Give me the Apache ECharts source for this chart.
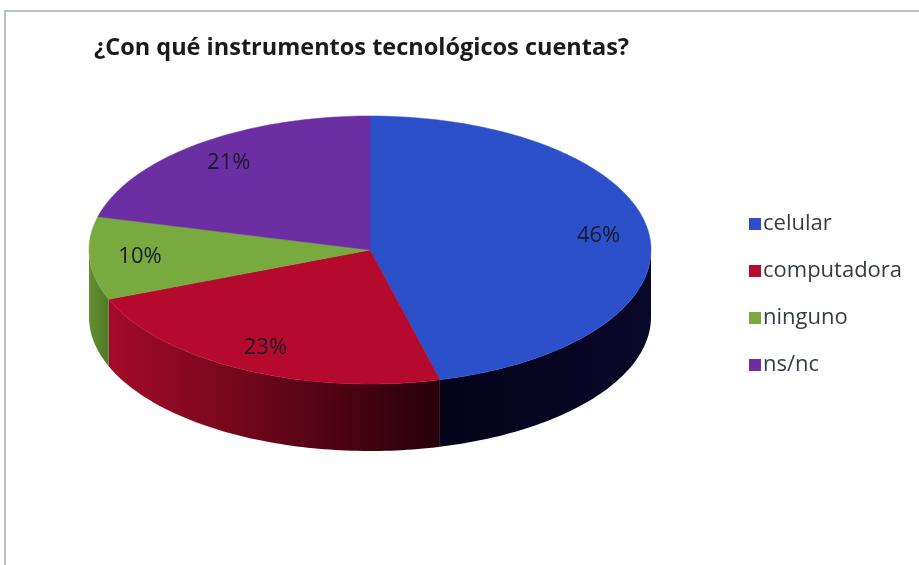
<!DOCTYPE html>
<html>
<head>
<meta charset="utf-8">
<script src="https://cdn.jsdelivr.net/npm/echarts@6/dist/echarts.min.js"></script>
<style>
  html, body { margin: 0; padding: 0; background: #fff; }
  #chart { width: 919px; height: 565px; }
</style>
</head>
<body>
<div id="chart"></div>
<script>
  // data
  var categories = ['celular', 'computadora', 'ninguno', 'ns/nc'];
  var percents = [46, 23, 10, 21];
  var labels = ['46%', '23%', '10%', '21%'];

  var topColors = ['#2b50c9', '#b5092d', '#78aa40', '#6b2fa3'];
  var wallColors = [
    ['#05031a', '#0a0828'],   // left -> right
    ['#a50b28', '#26000b'],
    ['#62902f', '#4f7a26'],
    ['#4f1f7c', '#3c165f']
  ];

  // pie geometry (ellipse, tilted)
  var cx = 370, cy = 250, rx = 281, ry = 134, depth = 67;

  var total = percents.reduce(function (a, b) { return a + b; }, 0);

  function pt(t, dy) {
    return [cx + rx * Math.sin(t), cy - ry * Math.cos(t) + (dy || 0)];
  }
  function arc(a0, a1, dy) {
    var pts = [];
    var n = Math.max(2, Math.ceil(Math.abs(a1 - a0) / 0.02));
    for (var k = 0; k <= n; k++) {
      pts.push(pt(a0 + (a1 - a0) * k / n, dy));
    }
    return pts;
  }

  function renderSlice(params, api) {
    var i = params.seriesIndex;
    var before = 0;
    for (var j = 0; j < i; j++) before += percents[j];
    var v = api.value(0);
    var a0 = before / total * Math.PI * 2;
    var a1 = (before + v) / total * Math.PI * 2;
    var children = [];

    // outer wall (front half only)
    var s = Math.max(a0, Math.PI / 2), e = Math.min(a1, Math.PI * 1.5);
    if (e > s) {
      var topArc = arc(s, e, 0);
      var botArc = arc(e, s, depth);
      var xs = topArc.map(function (p) { return p[0]; });
      var minX = Math.min.apply(null, xs), maxX = Math.max.apply(null, xs);
      children.push({
        type: 'polygon',
        z2: 1,
        shape: { points: topArc.concat(botArc) },
        style: {
          fill: new echarts.graphic.LinearGradient(minX, 0, maxX, 0, [
            { offset: 0, color: wallColors[i][0] },
            { offset: 1, color: wallColors[i][1] }
          ], true),
          stroke: null
        }
      });
    }

    // top face
    children.push({
      type: 'polygon',
      z2: 10,
      shape: { points: [[cx, cy]].concat(arc(a0, a1, 0)) },
      style: { fill: topColors[i], stroke: topColors[i], lineWidth: 0.5 }
    });

    // label
    var mid = (a0 + a1) / 2;
    var lp = pt(mid, 0);
    var f = 0.82;
    children.push({
      type: 'text',
      z2: 20,
      x: cx + (lp[0] - cx) * f,
      y: cy + (lp[1] - cy) * f,
      style: {
        text: labels[i],
        fill: '#1a1a28',
        fontSize: 22,
        fontFamily: 'Open Sans',
        align: 'center',
        verticalAlign: 'middle'
      }
    });

    return { type: 'group', children: children };
  }

  var series = categories.map(function (name, i) {
    return {
      name: name,
      type: 'custom',
      coordinateSystem: 'none',
      renderItem: renderSlice,
      itemStyle: { color: topColors[i] },
      data: [[percents[i]]]
    };
  });

  var chart = echarts.init(document.getElementById('chart'));

  var option = {
    backgroundColor: '#ffffff',
    animation: false,
    title: {
      text: '¿Con qué instrumentos tecnológicos cuentas?',
      left: 89,
      top: 31,
      textStyle: {
        fontFamily: 'Open Sans',
        fontWeight: 'bold',
        fontSize: 23.5,
        color: '#1a1a1a'
      }
    },
    legend: {
      orient: 'vertical',
      left: 744,
      top: 208,
      icon: 'rect',
      itemWidth: 12,
      itemHeight: 12,
      itemGap: 25,
      data: categories,
      textStyle: {
        fontFamily: 'Open Sans',
        fontSize: 22,
        lineHeight: 20,
        color: '#363b48',
        padding: [0, 0, 0, -3]
      }
    },
    graphic: [{
      type: 'rect',
      shape: { x: 5, y: 11, width: 930, height: 580 },
      style: { fill: null, stroke: '#a4adc2', lineWidth: 1.5 },
      silent: true
    }],
    series: series
  };

  chart.setOption(option);
</script>
</body>
</html>
